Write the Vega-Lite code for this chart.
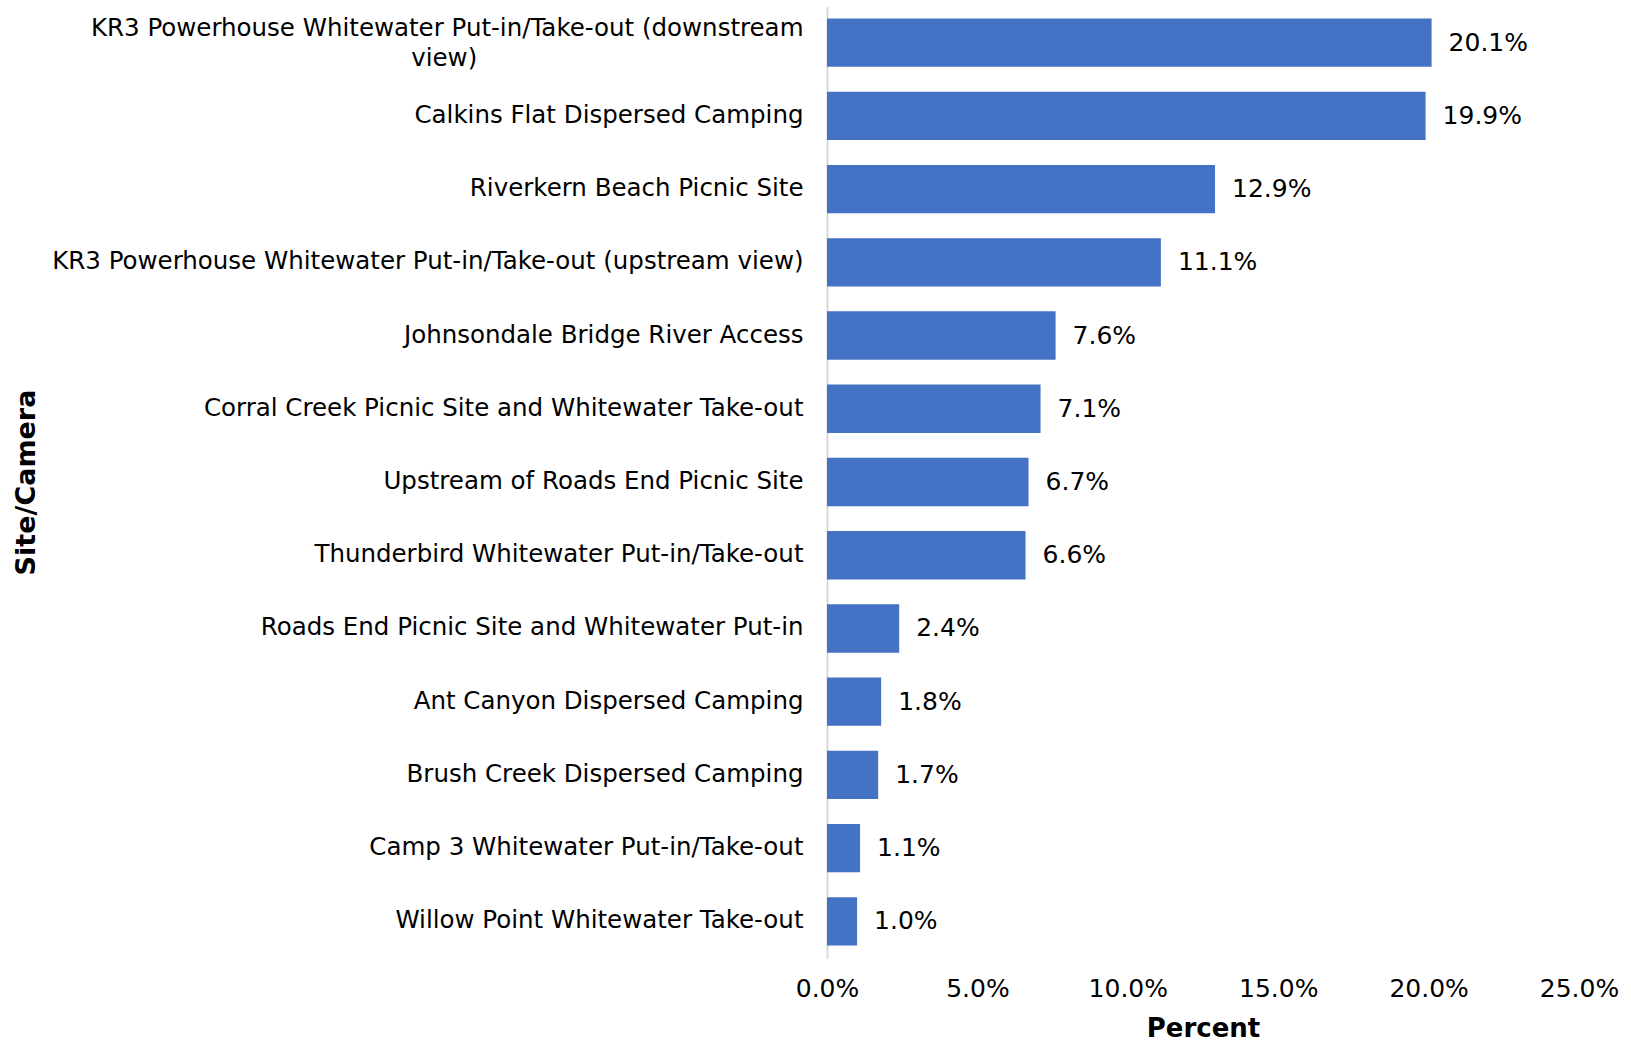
{
  "$schema": "https://vega.github.io/schema/vega-lite/v6.json",
  "autosize": "none",
  "width": 752,
  "height": 952,
  "padding": {"left": 827, "top": 6, "right": 52, "bottom": 86},
  "background": "white",
  "config": {"view": {"stroke": null}, "font": "DejaVu Sans"},
  "data": {"values": [
    {"site": "KR3 Powerhouse Whitewater Put-in/Take-out (downstream view)", "pct": 0.201},
    {"site": "Calkins Flat Dispersed Camping", "pct": 0.199},
    {"site": "Riverkern Beach Picnic Site", "pct": 0.129},
    {"site": "KR3 Powerhouse Whitewater Put-in/Take-out (upstream view)", "pct": 0.111},
    {"site": "Johnsondale Bridge River Access", "pct": 0.076},
    {"site": "Corral Creek Picnic Site and Whitewater Take-out", "pct": 0.071},
    {"site": "Upstream of Roads End Picnic Site", "pct": 0.067},
    {"site": "Thunderbird Whitewater Put-in/Take-out", "pct": 0.066},
    {"site": "Roads End Picnic Site and Whitewater Put-in", "pct": 0.024},
    {"site": "Ant Canyon Dispersed Camping", "pct": 0.018},
    {"site": "Brush Creek Dispersed Camping", "pct": 0.017},
    {"site": "Camp 3 Whitewater Put-in/Take-out", "pct": 0.011},
    {"site": "Willow Point Whitewater Take-out", "pct": 0.010}
  ]},
  "encoding": {
    "y": {
      "field": "site", "type": "nominal", "sort": null,
      "scale": {"paddingInner": 0.34, "paddingOuter": 0.17},
      "axis": {
        "title": "Site/Camera",
        "titleFont": "DejaVu Sans", "titleFontSize": 27, "titleFontWeight": "bold", "titleColor": "black",
        "titleX": -801, "titleY": 476, "titleAngle": -90, "titleBaseline": "middle", "titleAlign": "center",
        "labelFont": "DejaVu Sans", "labelFontSize": 24.5, "labelColor": "black", "labelLimit": 0,
        "labelPadding": 24, "ticks": false,
        "labelLineHeight": 30,
        "labelOffset": {"condition": {"test": "datum.value == 'KR3 Powerhouse Whitewater Put-in/Take-out (downstream view)'", "value": -14}, "value": 0},
        "labelExpr": "datum.value == 'KR3 Powerhouse Whitewater Put-in/Take-out (downstream view)' ? ['KR3 Powerhouse Whitewater Put-in/Take-out (downstream', 'view)\u2003\u2003\u2003\u2003\u2003\u2003\u2003\u2003\u2003\u2003\u2003\u2003\u2003\u00a0\u2060'] : datum.value",
        "domainColor": "#d9d9d9", "domainWidth": 2
      }
    },
    "x": {
      "field": "pct", "type": "quantitative",
      "scale": {"domain": [0, 0.25], "nice": false},
      "axis": {
        "title": "Percent", "titleFont": "DejaVu Sans", "titleFontSize": 26, "titleFontWeight": "bold", "titleColor": "black",
        "titlePadding": 14,
        "format": ".1%", "values": [0, 0.05, 0.1, 0.15, 0.2, 0.25],
        "labelFont": "DejaVu Sans", "labelFontSize": 25, "labelColor": "black", "labelPadding": 18, "labelFlush": false,
        "ticks": false, "domain": false, "grid": false
      }
    }
  },
  "layer": [
    {"mark": {"type": "bar", "color": "#4472C4"}},
    {"mark": {"type": "text", "align": "left", "baseline": "middle", "dx": 17, "fontSize": 25, "font": "DejaVu Sans", "color": "black"},
     "encoding": {"text": {"field": "pct", "type": "quantitative", "format": ".1%"}}}
  ]
}
